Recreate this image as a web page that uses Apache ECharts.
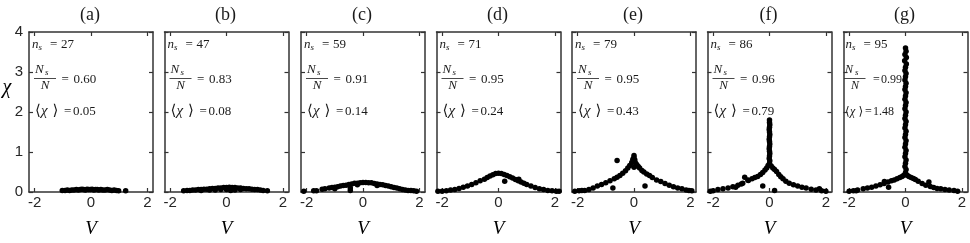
<!DOCTYPE html>
<html><head><meta charset="utf-8">
<script src="https://cdn.jsdelivr.net/npm/echarts@6/dist/echarts.min.js"></script>
<style>html,body{margin:0;padding:0;background:#fff}#c{width:970px;height:243px}</style>
</head><body><div id="c"></div><script>
// ---- data ----
const panelLabels = ['(a)', '(b)', '(c)', '(d)', '(e)', '(f)', '(g)'];
const nsValues = ['27', '47', '59', '71', '79', '86', '95'];
const ratioValues = ['0.60', '0.83', '0.91', '0.95', '0.95', '0.96', '0.99'];
const meanValues = ['0.05', '0.08', '0.14', '0.24', '0.43', '0.79', '1.48'];
const xTicks = [-2, 0, 2];
const yTicks = [0, 1, 2, 3, 4];

const panelA = [[-1.02,0.04],[-0.92,0.04],[-0.84,0.05],[-0.76,0.04],[-0.68,0.05],[-0.6,0.05],[-0.52,0.06],[-0.45,0.05],[-0.38,0.06],[-0.32,0.07],[-0.26,0.06],[-0.2,0.05],[-0.14,0.07],[-0.08,0.06],[-0.02,0.06],[0.04,0.07],[0.1,0.05],[0.16,0.06],[0.22,0.06],[0.28,0.05],[0.35,0.06],[0.42,0.05],[0.5,0.05],[0.58,0.06],[0.66,0.05],[0.74,0.04],[0.82,0.05],[0.9,0.04],[0.98,0.03],[1.23,0.03]];

const panelB = [[-1.52,0.03],[-1.4,0.04],[-1.3,0.04],[-1.2,0.05],[-1.1,0.05],[-1.0,0.06],[-0.9,0.06],[-0.8,0.07],[-0.7,0.07],[-0.6,0.08],[-0.5,0.09],[-0.4,0.09],[-0.3,0.1],[-0.2,0.1],[-0.1,0.11],[0.0,0.11],[0.1,0.12],[0.2,0.11],[0.3,0.11],[0.4,0.1],[0.5,0.1],[0.6,0.09],[0.7,0.08],[0.8,0.08],[0.9,0.07],[1.0,0.06],[1.1,0.06],[1.2,0.05],[1.3,0.04],[1.45,0.03],[-0.9,0.04],[-0.6,0.05],[-0.4,0.05],[-0.2,0.06],[0.0,0.06],[0.15,0.04],[0.3,0.05],[0.5,0.06]];

const panelC = [[-2.1,0.02],[-1.75,0.03],[-1.65,0.03],[-1.45,0.07],[-1.35,0.08],[-1.2,0.1],[-1.1,0.11],[-1.0,0.12],[-0.9,0.13],[-0.8,0.15],[-0.7,0.16],[-0.6,0.17],[-0.5,0.19],[-0.4,0.2],[-0.3,0.22],[-0.2,0.22],[-0.1,0.23],[0.0,0.24],[0.1,0.24],[0.2,0.23],[0.3,0.23],[0.4,0.21],[0.5,0.2],[0.6,0.19],[0.7,0.18],[0.8,0.16],[0.9,0.15],[1.0,0.13],[1.1,0.11],[1.2,0.1],[1.3,0.08],[1.4,0.06],[1.5,0.05],[1.6,0.04],[1.7,0.04],[1.8,0.03],[1.9,0.02],[-0.45,0.04],[-0.45,0.1],[-1.0,0.08],[-0.2,0.18],[0.5,0.16]];

const panelD = [[-2.15,0.02],[-2.0,0.02],[-1.85,0.03],[-1.7,0.05],[-1.55,0.06],[-1.4,0.09],[-1.25,0.12],[-1.1,0.15],[-0.95,0.19],[-0.8,0.23],[-0.65,0.28],[-0.5,0.32],[-0.4,0.36],[-0.3,0.4],[-0.2,0.43],[-0.1,0.46],[0.0,0.47],[0.1,0.46],[0.2,0.44],[0.3,0.41],[0.4,0.38],[0.5,0.35],[0.6,0.31],[0.7,0.28],[0.8,0.25],[0.9,0.22],[1.0,0.19],[1.15,0.15],[1.3,0.11],[1.45,0.08],[1.6,0.06],[1.75,0.04],[1.9,0.03],[2.05,0.02],[2.15,0.02],[0.22,0.27],[0.72,0.32]];

const panelE = [[-2.1,0.02],[-1.95,0.03],[-1.85,0.04],[-1.75,0.04],[-1.6,0.06],[-1.45,0.1],[-1.3,0.15],[-1.15,0.19],[-1.0,0.23],[-0.85,0.28],[-0.7,0.33],[-0.6,0.37],[-0.5,0.41],[-0.4,0.47],[-0.3,0.53],[-0.22,0.6],[-0.15,0.66],[-0.08,0.74],[-0.04,0.82],[0.0,0.91],[0.0,0.86],[0.03,0.8],[0.06,0.72],[0.1,0.68],[0.15,0.64],[0.2,0.6],[0.28,0.54],[0.35,0.5],[0.45,0.45],[0.55,0.41],[0.65,0.36],[0.8,0.3],[0.95,0.26],[1.1,0.21],[1.25,0.17],[1.4,0.13],[1.55,0.1],[1.7,0.08],[1.85,0.05],[1.95,0.04],[2.05,0.03],[-0.6,0.79],[-0.75,0.1],[0.39,0.15],[0.0,0.62]];

const panelF = [[0.0,0.72],[0.01,0.78],[-0.01,0.84],[0.0,0.9],[0.01,0.96],[0.0,1.02],[-0.01,1.08],[0.0,1.14],[0.01,1.2],[0.0,1.26],[-0.01,1.32],[0.0,1.38],[0.01,1.44],[0.0,1.5],[-0.01,1.56],[0.0,1.62],[0.01,1.68],[0.0,1.74],[0.0,1.8],
  [-0.05,0.66],[-0.1,0.6],[-0.16,0.55],[-0.24,0.49],[-0.32,0.44],[-0.42,0.39],[-0.52,0.36],[-0.62,0.33],[-0.75,0.29],[-0.95,0.22],[-1.12,0.17],[-1.3,0.13],[-1.47,0.1],[-1.65,0.08],[-1.83,0.06],[-2.0,0.03],[-2.1,0.02],
  [0.06,0.65],[0.12,0.6],[0.18,0.56],[0.25,0.51],[0.33,0.44],[0.4,0.38],[0.48,0.33],[0.58,0.27],[0.7,0.22],[0.85,0.18],[1.0,0.15],[1.15,0.12],[1.3,0.1],[1.48,0.07],[1.65,0.05],[1.85,0.03],[2.0,0.02],
  [-0.88,0.37],[-0.77,0.3],[-1.0,0.2],[-0.24,0.15],[0.18,0.04],[1.77,0.08],[-1.2,0.12]];

const panelG = [[0.0,0.48],[0.02,0.56],[-0.02,0.64],[0.0,0.72],[0.02,0.8],[-0.02,0.88],[0.0,0.96],[0.02,1.04],[-0.02,1.12],[0.0,1.2],[0.02,1.28],[-0.02,1.36],[0.0,1.44],[0.02,1.52],[-0.02,1.6],[0.0,1.68],[0.02,1.76],[-0.02,1.84],[0.0,1.92],[0.02,2.0],[-0.02,2.08],[0.0,2.16],[0.02,2.24],[-0.02,2.32],[0.0,2.4],[0.02,2.48],[-0.02,2.56],[0.0,2.64],[0.02,2.72],[-0.02,2.8],[0.0,2.88],[0.02,2.96],[-0.02,3.04],[0.0,3.12],[0.03,3.2],[-0.03,3.28],[0.03,3.36],[-0.02,3.44],[0.02,3.52],[0.0,3.6],
  [-0.06,0.42],[-0.12,0.39],[-0.2,0.36],[-0.3,0.33],[-0.4,0.3],[-0.5,0.28],[-0.62,0.25],[-0.76,0.21],[-0.9,0.18],[-1.05,0.15],[-1.2,0.12],[-1.35,0.1],[-1.5,0.08],[-1.7,0.05],[-1.85,0.03],[-2.0,0.02],
  [0.06,0.42],[0.12,0.39],[0.2,0.36],[0.28,0.34],[0.35,0.31],[0.45,0.27],[0.59,0.21],[0.72,0.17],[0.88,0.14],[1.0,0.11],[1.12,0.09],[1.25,0.08],[1.4,0.06],[1.55,0.05],[1.72,0.04],[1.85,0.02],
  [-0.6,0.12],[0.83,0.25],[-0.75,0.26],[-1.75,0.03]];

const panels = [panelA, panelB, panelC, panelD, panelE, panelF, panelG];

// ---- layout ----
const lefts = [29, 164.5, 301, 436.5, 572, 707.5, 843.5];
const W = 124, T = 32, H = 161;
const frame = '#333333';
const serif = '"Liberation Serif", "DejaVu Serif", serif';
const sans = '"Liberation Sans", Arial, sans-serif';
// annotation x-offsets (normal layout, and the tighter one used in the last panel)
const layoutNormal = { n: 3, s: 9.5, eq1: 21, v1: 32, fn: 6, fs: 16, fl1: 5, fl2: 27, fd: 16, eq2: 32.5, v2: 44.5,
  b1: 6, chi: 12, b2: 23.5, eq3: 35, v3: 44, f: 13, fb: 15, fc: 15 };
const layoutTight = { n: 2, s: 8.5, eq1: 20, v1: 31, fn: 1.5, fs: 11.5, fl1: 0.5, fl2: 22, fd: 11.5, eq2: 29.5, v2: 37.5,
  b1: 1.5, chi: 6.5, b2: 15, eq3: 21.5, v3: 29.5, f: 12, fb: 12, fc: 12 };

const grid = [], xAxis = [], yAxis = [], series = [], graphic = [];
panels.forEach((data, i) => {
  const L = lefts[i];
  const P = i === panels.length - 1 ? layoutTight : layoutNormal;
  grid.push({ left: L, top: T, width: W, height: H, containLabel: false });
  const axLine = { show: true, onZero: false, lineStyle: { color: frame, width: 1.5 } };
  const tick = (vals) => ({ show: true, inside: true, length: 4, customValues: vals, lineStyle: { color: frame, width: 1.2 } });
  xAxis.push({
    gridIndex: i, type: 'value', position: 'bottom', min: -2.2, max: 2.2,
    axisLine: axLine, axisTick: tick(xTicks), splitLine: { show: false },
    axisLabel: { customValues: xTicks, margin: 3, fontSize: 15, fontFamily: sans, color: '#262626' },
    name: 'V', nameLocation: 'middle', nameGap: 27,
    nameTextStyle: { fontFamily: serif, fontStyle: 'italic', fontSize: 19, color: '#000' }
  });
  xAxis.push({
    gridIndex: i, type: 'value', position: 'top', min: -2.2, max: 2.2,
    axisLine: axLine, axisTick: tick(xTicks), splitLine: { show: false }, axisLabel: { show: false }
  });
  yAxis.push({
    gridIndex: i, type: 'value', position: 'left', min: 0, max: 4, interval: 1,
    axisLine: axLine, axisTick: tick(yTicks), splitLine: { show: false },
    axisLabel: { show: i === 0, customValues: yTicks, margin: 6, fontSize: 15, fontFamily: sans, color: '#262626' }
  });
  yAxis.push({
    gridIndex: i, type: 'value', position: 'right', min: 0, max: 4, interval: 1,
    axisLine: axLine, axisTick: tick(yTicks), splitLine: { show: false }, axisLabel: { show: false }
  });
  series.push({
    type: 'scatter', xAxisIndex: 2 * i, yAxisIndex: 2 * i, data: data,
    symbol: 'circle', symbolSize: 5.5, itemStyle: { color: '#000', opacity: 1 }, silent: true
  });
  // annotations
  const txt = (x, y, s, font, align) => ({ type: 'text', x: x, y: y, silent: true,
    style: { text: s, font: font, fill: '#1a1a1a', align: align || 'left', verticalAlign: 'middle' } });
  const f = P.f + 'px ' + serif, fi = 'italic ' + P.f + 'px ' + serif;
  graphic.push(txt(L + W / 2 - 1, 15, panelLabels[i], '18px ' + serif, 'center'));
  graphic.push(txt(L + P.n, 45, 'n', 'italic 13px ' + serif));
  graphic.push(txt(L + P.s, 47.5, 's', 'italic 9px ' + serif));
  graphic.push(txt(L + P.eq1, 45, '=', '13px ' + serif));
  graphic.push(txt(L + P.v1, 45, nsValues[i], '13px ' + serif));
  graphic.push(txt(L + P.fn, 70, 'N', fi));
  graphic.push(txt(L + P.fs, 73, 's', 'italic 9px ' + serif));
  graphic.push({ type: 'line', silent: true, shape: { x1: L + P.fl1, y1: 78.5, x2: L + P.fl2, y2: 78.5 }, style: { stroke: '#1a1a1a', lineWidth: 0.8 } });
  graphic.push(txt(L + P.fd, 86, 'N', fi, 'center'));
  graphic.push(txt(L + P.eq2, 80, '=', f));
  graphic.push(txt(L + P.v2, 80, ratioValues[i], f));
  graphic.push(txt(L + P.b1, 111.5, '\u27E8', P.fb + 'px ' + serif));
  graphic.push(txt(L + P.chi, 111.5, '\u03C7', 'italic ' + P.fc + 'px ' + serif));
  graphic.push(txt(L + P.b2, 111.5, '\u27E9', P.fb + 'px ' + serif));
  graphic.push(txt(L + P.eq3, 111.5, '=', f));
  graphic.push(txt(L + P.v3, 111.5, meanValues[i], f));
});
graphic.push({ type: 'text', x: 7, y: 88, silent: true,
  style: { text: '\u03C7', font: 'italic 20px ' + serif, fill: '#000', align: 'center', verticalAlign: 'middle' } });

const chart = echarts.init(document.getElementById('c'), null, { renderer: 'canvas' });
chart.setOption({ animation: false, backgroundColor: '#fff', grid, xAxis, yAxis, series, graphic });
</script></body></html>
